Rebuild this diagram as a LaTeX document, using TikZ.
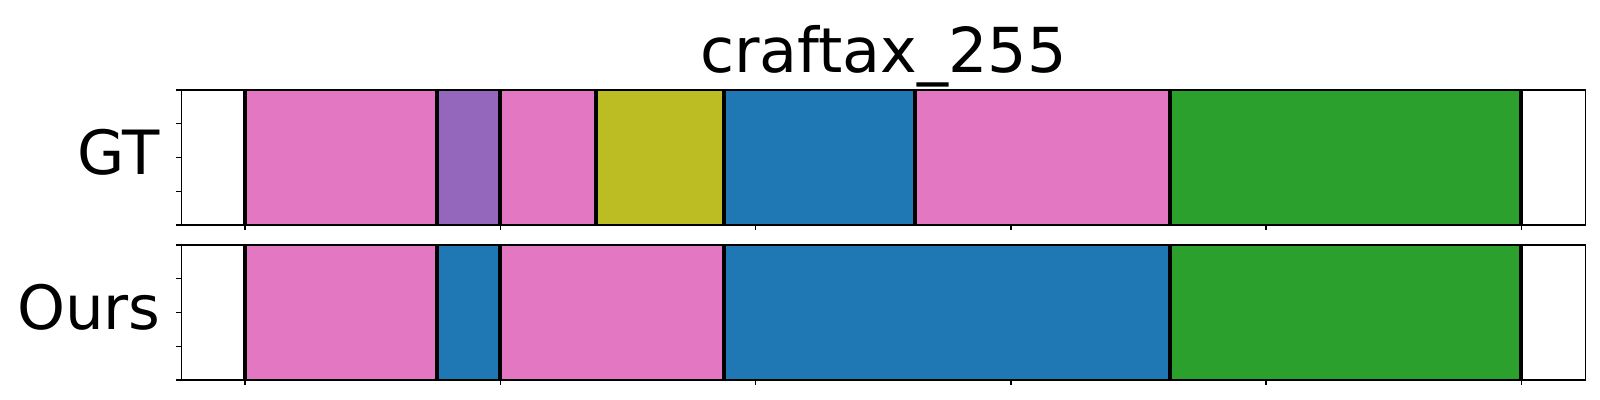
\documentclass[tikz,border=0pt]{standalone}
\usepackage{fontspec}
\setmainfont{DejaVu Sans}
\definecolor{tabpink}{HTML}{E377C2}
\definecolor{tabpurple}{HTML}{9467BD}
\definecolor{tabolive}{HTML}{BCBD22}
\definecolor{tabblue}{HTML}{1F77B4}
\definecolor{tabgreen}{HTML}{2CA02C}

\begin{document}
\begin{tikzpicture}[x=0.5pt,y=-0.5pt]
		\tikzstyle{Frame}=[draw=black,line width=0.8pt]
		\tikzstyle{Cut}=[draw=black,line width=2.2pt]
		\tikzstyle{Tick}=[draw=black,line width=0.7pt]
		\tikzstyle{RowLabel}=[anchor=base east,inner sep=0pt,font=\fontsize{30.5}{36}\selectfont]
		\useasboundingbox (0,0) rectangle (1600,400);
		\node[anchor=base,inner sep=0pt,font=\fontsize{31}{37}\selectfont] (title) at (883.5,73) {craftax\_255};
		% GT row
		\foreach \a/\b/\c in {245/437/tabpink,437/500/tabpurple,500/596/tabpink,596/724/tabolive,%
			724/915/tabblue,915/1170/tabpink,1170/1521/tabgreen}
			\fill[\c] (\a,90) rectangle (\b,225);
		\foreach \x in {245,437,500,596,724,915,1170,1521}
			\draw[Cut] (\x,90) -- (\x,225);
		\draw[Frame] (181.5,90) rectangle (1585.5,225);
		\foreach \y in {90,123.75,157.5,191.25,225}
			\draw[Tick] (176,\y) -- (181.5,\y);
		\foreach \x in {245,500.2,755.5,1010.8,1266,1521.3}
			\draw[Tick] (\x,225) -- (\x,230);
		\node[RowLabel] (gt) at (160,175) {GT};
		% Ours row
		\foreach \a/\b/\c in {245/437/tabpink,437/500/tabblue,500/724/tabpink,%
			724/1170/tabblue,1170/1521/tabgreen}
			\fill[\c] (\a,245) rectangle (\b,380);
		\foreach \x in {245,437,500,724,1170,1521}
			\draw[Cut] (\x,245) -- (\x,380);
		\draw[Frame] (181.5,245) rectangle (1585.5,380);
		\foreach \y in {245,278.75,312.5,346.25,380}
			\draw[Tick] (176,\y) -- (181.5,\y);
		\foreach \x in {245,500.2,755.5,1010.8,1266,1521.3}
			\draw[Tick] (\x,380) -- (\x,385);
		\node[RowLabel] (ours) at (161,330) {Ours};
	\end{tikzpicture}
\end{document}
